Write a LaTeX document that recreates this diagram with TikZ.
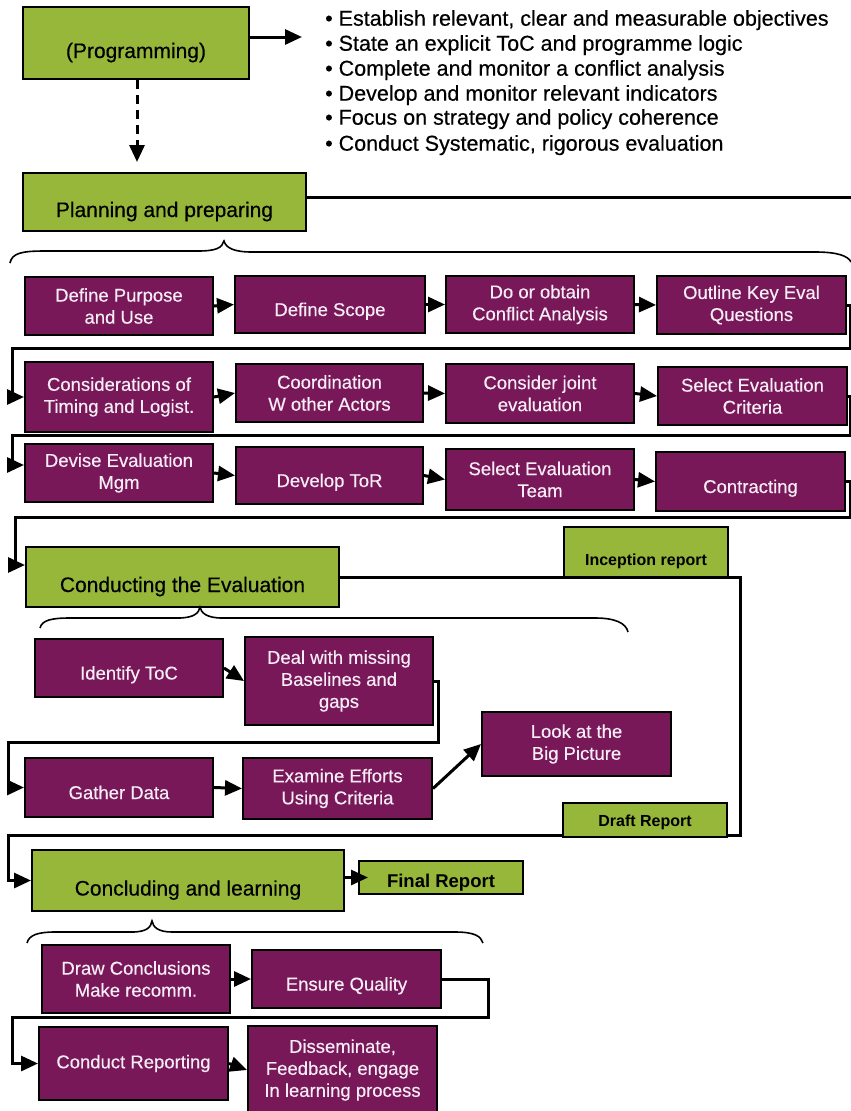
\documentclass[tikz,border=0pt]{standalone}
\usepackage{fontspec}
\setmainfont{Liberation Sans}
\newfontfamily\heavy{Liberation Sans}[FakeBold=0.4]
\usetikzlibrary{arrows.meta}
\definecolor{purp}{RGB}{120,24,88}
\definecolor{grn}{RGB}{150,183,58}
\definecolor{ptext}{RGB}{246,236,246}
\tikzset{
 pbox/.style={draw=black, line width=2pt, fill=purp, text=ptext, align=center, inner sep=0pt, font=\heavy\fontsize{18.5}{22}\selectfont},
 gbox/.style={draw=black, line width=2pt, fill=grn, text=black, align=center, inner sep=0pt, font=\heavy\fontsize{21}{25}\selectfont, text height=30pt, text depth=0pt},
 lbox/.style={draw=black, line width=2pt, fill=grn, text=black, inner sep=0pt, font=\bfseries\fontsize{16}{19}\selectfont},
 oneline/.style={text height=23pt, text depth=0pt},
 conn/.style={line width=3pt, -{Triangle[length=17pt,width=15pt]}},
 plain/.style={line width=3pt},
 brace/.style={line width=1.6pt},
 bul/.style={anchor=base west, inner sep=0pt, font=\heavy\fontsize{21.5}{25}\selectfont},
}
\begin{document}
\begin{tikzpicture}[x=1pt,y=-1pt]
\useasboundingbox[fill=white] (0,0) rectangle (851,1111);

% green headers
\node[gbox, minimum width=226pt, minimum height=72pt] (prog) at (136,43) {(Programming)};
\node[gbox, minimum width=283pt, minimum height=58pt] (plan) at (164.5,202) {Planning and preparing};
\node[gbox, minimum width=313pt, minimum height=60pt] (cond) at (182.5,577) {Conducting the Evaluation};
\node[gbox, minimum width=312pt, minimum height=61pt] (concl) at (188,880.5) {Concluding and learning};

% bullets
\node[bul] (bl1) at (325,25.7) {• Establish relevant, clear and measurable objectives};
\node[bul] (bl2) at (325,50.7) {• State an explicit ToC and programme logic};
\node[bul] (bl3) at (325,75.7) {• Complete and monitor a conflict analysis};
\node[bul] (bl4) at (325,100.7) {• Develop and monitor relevant indicators};
\node[bul] (bl5) at (325,124.7) {• Focus on strategy and policy coherence};
\node[bul] (bl6) at (325,150.7) {• Conduct Systematic, rigorous evaluation};

% planning boxes
\node[pbox, minimum width=188pt, minimum height=58pt] (b1) at (119,306) {Define Purpose\\and Use};
\node[pbox, oneline, minimum width=190pt, minimum height=57pt] (b2) at (330,304.5) {Define Scope};
\node[pbox, minimum width=188pt, minimum height=57pt] (b3) at (540,304.5) {Do or obtain\\Conflict Analysis};
\node[pbox, minimum width=189pt, minimum height=58pt] (b4) at (751.5,305) {Outline Key Eval\\Questions};
\node[pbox, minimum width=188pt, minimum height=70pt] (b5) at (119,397) {Considerations of\\Timing and Logist.};
\node[pbox, minimum width=187pt, minimum height=58pt] (b6) at (329.5,393) {Coordination\\W other Actors};
\node[pbox, minimum width=188pt, minimum height=59pt] (b7) at (540,393.5) {Consider joint\\evaluation};
\node[pbox, minimum width=189pt, minimum height=58pt] (b8) at (752.5,396) {Select Evaluation\\Criteria};
\node[pbox, minimum width=188pt, minimum height=58pt] (b9) at (119,473) {Devise Evaluation\\Mgm};
\node[pbox, oneline, minimum width=187pt, minimum height=57pt] (b10) at (329.5,475.5) {Develop ToR};
\node[pbox, minimum width=188pt, minimum height=61pt] (b11) at (540,479.5) {Select Evaluation\\Team};
\node[pbox, oneline, minimum width=189pt, minimum height=59pt] (b12) at (750.5,481.5) {Contracting};

% conducting boxes
\node[pbox, oneline, minimum width=188pt, minimum height=58pt] (c1) at (129,668) {Identify ToC};
\node[pbox, minimum width=188pt, minimum height=88pt] (c2) at (339,681) {Deal with missing\\Baselines and\\gaps};
\node[pbox, oneline, minimum width=188pt, minimum height=59pt] (c3) at (119,787.5) {Gather Data};
\node[pbox, minimum width=189pt, minimum height=61pt] (c4) at (337.5,788.5) {Examine Efforts\\Using Criteria};
\node[pbox, minimum width=189pt, minimum height=64pt] (c5) at (576.5,744) {Look at the\\Big Picture};

% concluding boxes
\node[pbox, minimum width=188pt, minimum height=68pt] (d1) at (136,979) {Draw Conclusions\\Make recomm.};
\node[pbox, oneline, minimum width=189pt, minimum height=58pt] (d2) at (346.5,979) {Ensure Quality};
\node[pbox, minimum width=189pt, minimum height=73pt] (d3) at (133.5,1063.5) {Conduct Reporting};
\node[pbox, minimum width=189pt, minimum height=88pt] (d4) at (342.5,1070) {Disseminate,\\Feedback, engage\\In learning process};

\node[lbox, font=\bfseries\fontsize{18.5}{22}\selectfont, text height=19pt, text depth=0pt, minimum width=164pt, minimum height=33pt] (fin) at (441,877.5) {Final Report};

% top connectors
\coordinate (pe) at (302,37);
\draw[conn] ([yshift=6pt]prog.east) -- (pe);
\coordinate (de) at (137,162);
\draw[conn, dash pattern=on 9pt off 6pt] (prog.south -| de) -- (de);
\coordinate (pl) at (852,197);
\draw[plain] ([yshift=5pt]plan.east) -- (pl);

% braces
\draw[brace] (10,263) .. controls (12,253) and (22,251) .. (45,251) -- (198,251) .. controls (216,251) and (222,248) .. (224,241) .. controls (226,248) and (234,252) .. (252,252) -- (815,252) .. controls (838,252) and (848,256) .. (851,262);
\draw[brace] (40,628) .. controls (42,620) and (52,618) .. (70,618) -- (178,618) .. controls (194,618) and (199,613) .. (200,607) .. controls (201,613) and (207,618) .. (222,618) -- (595,618) .. controls (615,618) and (626,623) .. (628,632);
\draw[brace] (27,943) .. controls (29,935) and (38,932) .. (55,932) -- (132,932) .. controls (147,932) and (151,927) .. (152,921) .. controls (153,927) and (158,932) .. (172,932) -- (455,932) .. controls (474,932) and (481,936) .. (483,943);

% in-row arrows
\draw[conn] (b1.east) -- (b2.west);
\draw[conn] (b2.east) -- (b3.west);
\draw[conn] (b3.east) -- (b4.west);
\draw[conn] (b5.east) -- (b6.west);
\draw[conn] (b6.east) -- (b7.west);
\draw[conn] (b7.east) -- (b8.west);
\draw[conn] (b9.east) -- (b10.west);
\draw[conn] (b10.east) -- (b11.west);
\draw[conn] (b11.east) -- (b12.west);
\draw[conn] (c1.east) -- (c2.west);
\draw[conn] (c3.east) -- (c4.west);
\draw[conn] (c4.east) -- (c5.west);
\draw[conn] (d1.east) -- (d2.west);
\draw[conn] (d3.east) -- (d4.west);
\draw[conn] ([yshift=3pt]concl.east) -- ([xshift=10pt]fin.west);

% row-to-row connectors
\coordinate (k1) at (850,348); \coordinate (k2) at (12,348);
\draw[conn] (b4.east) -| (k1) -- (k2) |- (b5.west);
\coordinate (k3) at (850,435); \coordinate (k4) at (12,435);
\draw[conn] (b8.east) -| (k3) -- (k4) |- ([yshift=8pt]b9.west);
\coordinate (k5) at (850,517); \coordinate (k6) at (15,517);
\draw[conn] (b12.east) -| (k5) -- (k6) |- ([yshift=12pt]cond.west);
\coordinate (k7) at (740,835); \coordinate (k8) at (8,835);
\draw[conn] (cond.east) -| (k7) -- (k8) |- (concl.west);
\coordinate (k9) at (438,742); \coordinate (k10) at (8,742);
\draw[conn] (c2.east) -| (k9) -- (k10) |- (c3.west);
\coordinate (k11) at (488,1017); \coordinate (k12) at (12,1017);
\draw[conn] (d2.east) -| (k11) -- (k12) |- (d3.west);

% report labels on the process line
\node[lbox, text height=26pt, text depth=0pt, minimum width=164pt, minimum height=50pt] (incep) at (646,552) {Inception report};
\node[lbox, text height=12pt, text depth=0pt, minimum width=164pt, minimum height=34pt] (draft) at (645,820) {Draft Report};
\end{tikzpicture}
\end{document}
